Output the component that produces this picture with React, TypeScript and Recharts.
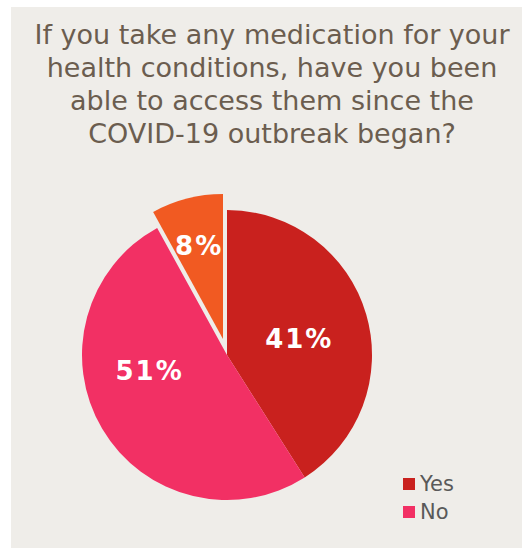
import React from "react";
import { PieChart, Pie, Cell } from "recharts";

// survey answers, percent of respondents
const categories = ["Yes", "No", "Not applicable"];
const shares = [41, 51, 8];
const legendItems = ["Yes", "No"];
const titleLines = [
  "If you take any medication for your",
  "health conditions, have you been",
  "able to access them since the",
  "COVID-19 outbreak began?",
];

const COLORS = ["#C9211E", "#F23064", "#F15A22"];
const BG = "#EFEDE9";
const FONT = "'DejaVu Sans', Verdana, sans-serif";

const data = categories.map((name, i) => ({ name, value: shares[i] }));

const CX = 216;
const CY = 348;
const R = 145;
// the small slice is pulled out of the pie
const EXPLODE = { dx: -4, dy: -16 };
const LABEL_RADIUS = [0.51, 0.545, 0.66];
const LABEL_TURN = [-4, -19, 0];

const RADIAN = Math.PI / 180;

function makeLabel(visible: (i: number) => boolean) {
  return (props: any) => {
    const { cx, cy, midAngle, outerRadius, index, value } = props;
    if (!visible(index)) return null;
    const a = (midAngle + LABEL_TURN[index]) * RADIAN;
    const r = outerRadius * LABEL_RADIUS[index];
    const x = cx + r * Math.cos(a);
    const y = cy - r * Math.sin(a);
    return (
      <text
        x={x}
        y={y}
        fill="#FFFFFF"
        textAnchor="middle"
        dominantBaseline="central"
        fontFamily={FONT}
        fontWeight="bold"
        fontSize={26}
        letterSpacing={2}
      >
        {`${value}%`}
      </text>
    );
  };
}

export default function App() {
  return (
    <div style={{ position: "absolute", left: 0, top: 0, width: 522, height: 548, background: "#fff" }}>
      <div style={{ position: "absolute", left: 11, top: 7, width: 511, height: 541, background: BG }}>
        <div
          style={{
            position: "absolute",
            left: 0,
            top: 11,
            width: 522,
            textAlign: "center",
            fontFamily: FONT,
            fontSize: 27,
            lineHeight: "33px",
            color: "#6B5D4F",
          }}
        >
          {titleLines.map((l) => (
            <div key={l}>{l}</div>
          ))}
        </div>
        <PieChart
          width={511}
          height={541}
          margin={{ top: 0, right: 0, bottom: 0, left: 0 }}
          style={{ position: "absolute", left: 0, top: 0 }}
        >
          <Pie
            data={data}
            dataKey="value"
            nameKey="name"
            cx={CX}
            cy={CY}
            outerRadius={R}
            startAngle={90}
            endAngle={-270}
            stroke="none"
            isAnimationActive={false}
            labelLine={false}
            label={makeLabel((i) => i < 2)}
          >
            {data.map((d, i) => (
              <Cell key={d.name} fill={i < 2 ? COLORS[i] : "transparent"} />
            ))}
          </Pie>
          <Pie
            data={data}
            dataKey="value"
            nameKey="name"
            cx={CX + EXPLODE.dx}
            cy={CY + EXPLODE.dy}
            outerRadius={R}
            startAngle={90}
            endAngle={-270}
            stroke="none"
            isAnimationActive={false}
            labelLine={false}
            label={makeLabel((i) => i === 2)}
          >
            {data.map((d, i) => (
              <Cell key={d.name} fill={i === 2 ? COLORS[i] : "transparent"} />
            ))}
          </Pie>
        </PieChart>
        <div style={{ position: "absolute", left: 392, top: 463, fontFamily: FONT, fontSize: 21, color: "#595959" }}>
          {legendItems.map((name) => (
            <div key={name} style={{ display: "flex", alignItems: "center", height: 28 }}>
              <span
                style={{
                  display: "inline-block",
                  width: 12,
                  height: 12,
                  marginRight: 5,
                  background: COLORS[categories.indexOf(name)],
                }}
              />
              {name}
            </div>
          ))}
        </div>
      </div>
    </div>
  );
}
